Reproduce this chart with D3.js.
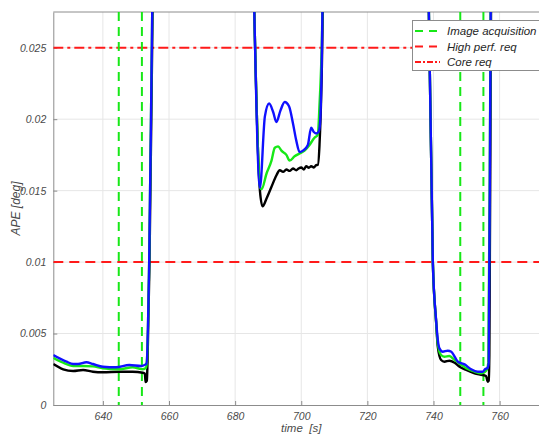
<!DOCTYPE html>
<html>
<head>
<meta charset="utf-8">
<script src="https://cdn.jsdelivr.net/npm/d3@7"></script>
<style>
  html, body { margin: 0; padding: 0; background: #fff; overflow: hidden; }
  svg { display: block; font-family: "Liberation Sans", Arial, sans-serif; }
  text { font-style: italic; }
</style>
</head>
<body>
<svg id="chart" width="539" height="438"></svg>
<script>
// Pointing error traces (time in s, APE in deg). Values above the axis top are clipped.
const blueTime = [625, 629, 631, 632.5, 635, 637, 640, 644, 648, 651.6, 652.6, 653.2, 654.0, 654.8, 655.2, 670,
  685.4, 685.8, 687.5, 689.0, 690.3, 691.5, 692.5, 693.7, 695.0, 696.3, 697.5, 698.5, 699.5, 700.5, 702.0, 703.0, 703.8, 704.5, 705.2, 705.6, 706.4, 706.6, 722,
  738.4, 738.6, 739.8, 740.8, 741.3, 741.8, 742.8, 744.3, 745.4, 746.4, 747.4, 749.4, 751.4, 753.4, 754.9, 755.6, 756.4, 756.7, 757.3, 757.5, 775];
const blueApe = [0.0035, 0.00303, 0.00287, 0.00287, 0.00299, 0.00287, 0.00268, 0.00264, 0.0028, 0.00273, 0.0028, 0.0029, 0.0100, 0.0250, 0.032, 0.06,
  0.032, 0.0275, 0.0152, 0.0202, 0.0211, 0.0205, 0.0198, 0.0206, 0.0212, 0.0209, 0.0197, 0.0185, 0.0177, 0.0178, 0.0182, 0.0194, 0.0191, 0.0190, 0.0191, 0.0195, 0.0275, 0.032, 0.06,
  0.032, 0.0275, 0.0100, 0.0059, 0.00455, 0.00396, 0.00373, 0.0038, 0.00373, 0.00338, 0.00303, 0.00284, 0.0025, 0.00233, 0.00233, 0.0025, 0.0026, 0.0030, 0.0275, 0.032, 0.06];

const greenTime = [625, 628, 631, 634, 637, 640, 645, 649, 652.1, 653.0, 653.3, 654.0, 654.8, 655.2, 670,
  685.4, 685.8, 687.6, 688.0, 689.5, 691.0, 692.0, 693.0, 694.0, 695.5, 696.5, 698.0, 699.5, 701.0, 702.5, 704.0, 705.0, 705.5, 706.4, 706.6, 722,
  738.4, 738.6, 739.8, 740.8, 741.3, 742.3, 743.3, 744.8, 746.4, 747.9, 749.9, 752.4, 754.4, 755.6, 756.2, 756.6, 757.3, 757.5, 775];
const greenApe = [0.00331, 0.00296, 0.00273, 0.00273, 0.0027, 0.00257, 0.0025, 0.00264, 0.0025, 0.0026, 0.0030, 0.0100, 0.0250, 0.032, 0.06,
  0.032, 0.0275, 0.0152, 0.0151, 0.0162, 0.0171, 0.0180, 0.0181, 0.0178, 0.0175, 0.0171, 0.0174, 0.0176, 0.0178, 0.0182, 0.0187, 0.0189, 0.0209, 0.0275, 0.032, 0.06,
  0.032, 0.0275, 0.0100, 0.0058, 0.0043, 0.0035, 0.00338, 0.00343, 0.00315, 0.00291, 0.00257, 0.00233, 0.00222, 0.00233, 0.0025, 0.0030, 0.0275, 0.032, 0.06];

const blackTime = [625, 628, 631, 634, 637, 640, 645, 649, 652.1, 652.7, 652.9, 653.3, 653.5, 654.1, 654.9, 655.3, 670,
  685.4, 685.8, 687.5, 688.3, 689.5, 691.0, 692.5, 693.5, 694.5, 695.5, 696.5, 697.5, 698.5, 699.2, 700.0, 700.8, 701.5, 702.3, 703.0, 703.8, 704.5, 705.0, 705.5, 706.5, 706.7, 722,
  738.4, 738.6, 739.8, 740.8, 741.3, 742.3, 743.3, 744.8, 746.4, 747.9, 749.9, 752.4, 754.9, 755.9, 756.4, 756.7, 756.9, 757.4, 757.6, 775];
const blackApe = [0.00287, 0.0025, 0.00238, 0.00245, 0.00233, 0.00229, 0.00233, 0.00233, 0.00226, 0.0022, 0.0016, 0.0017, 0.0030, 0.0100, 0.0250, 0.032, 0.06,
  0.032, 0.0275, 0.0150, 0.0139, 0.01445, 0.01527, 0.01608, 0.01643, 0.01631, 0.01648, 0.01638, 0.01655, 0.01643, 0.01655, 0.01662, 0.01648, 0.01671, 0.0166, 0.01671, 0.01662, 0.01678, 0.0168, 0.0181, 0.0275, 0.032, 0.06,
  0.032, 0.0275, 0.0100, 0.0058, 0.00408, 0.00315, 0.00303, 0.0031, 0.00296, 0.00268, 0.00245, 0.00222, 0.0021, 0.00203, 0.00163, 0.0017, 0.0035, 0.0275, 0.032, 0.06];

// Image acquisition windows (vertical markers) and requirement levels
const acquisitionTimes = [644.8, 651.8, 748.1, 755.1];
const highPerfReq = 0.01;
const coreReq = 0.025;

// Axis ticks
const xTicks = [640, 660, 680, 700, 720, 740, 760];
const yTicks = [0, 0.005, 0.01, 0.015, 0.02, 0.025];
const yTickLabels = ["0", "0.005", "0.01", "0.015", "0.02", "0.025"];

const legendLabels = ["Image acquisition", "High perf. req", "Core req"];

const svg = d3.select("#chart");
const plotLeft = 53.3, plotRight = 549.2, plotTop = 12, plotBottom = 405;

const x = d3.scaleLinear().domain([625, 775]).range([plotLeft, plotRight]);
const y = d3.scaleLinear().domain([0, 0.0275]).range([plotBottom, plotTop]);

const green = "#17e817", red = "#ff1a1a", blue = "#1010ff";

svg.append("defs").append("clipPath").attr("id", "plotClip")
  .append("rect").attr("x", plotLeft).attr("y", plotTop)
  .attr("width", plotRight - plotLeft).attr("height", plotBottom - plotTop);

// grid
const grid = svg.append("g");
grid.selectAll(".gx").data(xTicks).join("line")
  .attr("x1", d => x(d)).attr("x2", d => x(d)).attr("y1", plotTop).attr("y2", plotBottom)
  .attr("stroke", "#e6e6e6").attr("stroke-width", 1);
grid.selectAll(".gy").data(yTicks.slice(1)).join("line")
  .attr("x1", plotLeft).attr("x2", plotRight).attr("y1", d => y(d)).attr("y2", d => y(d))
  .attr("stroke", "#e6e6e6").attr("stroke-width", 1);

// axes (inward ticks)
const xAxis = svg.append("g").attr("transform", `translate(0,${plotBottom})`)
  .call(d3.axisBottom(x).tickValues(xTicks).tickSizeInner(-4).tickSizeOuter(0).tickPadding(8));
const yAxis = svg.append("g").attr("transform", `translate(${plotLeft},0)`)
  .call(d3.axisLeft(y).tickValues(yTicks).tickFormat((d, i) => yTickLabels[i]).tickSizeInner(-4).tickSizeOuter(0).tickPadding(7));
[xAxis, yAxis].forEach(a => {
  a.select(".domain").attr("stroke", "#8c8c8c");
  a.selectAll(".tick line").attr("stroke", "#8c8c8c");
  a.selectAll(".tick text").attr("fill", "#4a4a4a").attr("font-size", 10.5)
    .attr("font-family", "'Liberation Sans', Arial, sans-serif");
});
svg.append("line").attr("x1", plotLeft).attr("x2", plotRight).attr("y1", plotTop).attr("y2", plotTop)
  .attr("stroke", "#8c8c8c").attr("stroke-width", 1);

const plot = svg.append("g").attr("clip-path", "url(#plotClip)");

// requirement levels
plot.append("line").attr("x1", plotLeft).attr("x2", plotRight).attr("y1", y(highPerfReq)).attr("y2", y(highPerfReq))
  .attr("stroke", red).attr("stroke-width", 2).attr("stroke-dasharray", "10,6");
plot.append("line").attr("x1", plotLeft).attr("x2", plotRight).attr("y1", y(coreReq)).attr("y2", y(coreReq))
  .attr("stroke", red).attr("stroke-width", 2).attr("stroke-dasharray", "10,4,3,4");

// acquisition markers
plot.selectAll(".acq").data(acquisitionTimes).join("line")
  .attr("x1", d => x(d)).attr("x2", d => x(d)).attr("y1", plotTop).attr("y2", plotBottom)
  .attr("stroke", green).attr("stroke-width", 2).attr("stroke-dasharray", "9,6");

// traces
const line = d3.line().x(d => x(d[0])).y(d => y(d[1])).curve(d3.curveMonotoneX);
const traces = [
  { t: blackTime, v: blackApe, c: "#000000" },
  { t: greenTime, v: greenApe, c: green },
  { t: blueTime, v: blueApe, c: blue }
];
traces.forEach(s => {
  plot.append("path").datum(s.t.map((t, i) => [t, s.v[i]]))
    .attr("d", line).attr("fill", "none").attr("stroke", s.c)
    .attr("stroke-width", 2.4).attr("stroke-linejoin", "round");
});

// axis titles
svg.append("text").attr("x", (plotLeft + plotRight) / 2).attr("y", 432).attr("text-anchor", "middle")
  .attr("font-size", 11.5).attr("fill", "#4a4a4a").style("white-space", "pre").text("time  [s]");
svg.append("text").attr("transform", `translate(20,${(plotTop + plotBottom) / 2}) rotate(-90)`)
  .attr("text-anchor", "middle").attr("font-size", 12).attr("fill", "#4a4a4a").text("APE [deg]");

// legend
const lg = svg.append("g");
lg.append("rect").attr("x", 412.5).attr("y", 20.5).attr("width", 140).attr("height", 50)
  .attr("fill", "#fff").attr("stroke", "#8c8c8c").attr("stroke-width", 1);
const legendStyles = [
  { c: green, dash: "8,6" },
  { c: red, dash: "8,6" },
  { c: red, dash: "6,2,2,2" }
];
legendLabels.forEach((lab, i) => {
  const yy = 31 + i * 15.5;
  lg.append("line").attr("x1", 415).attr("x2", 440).attr("y1", yy).attr("y2", yy)
    .attr("stroke", legendStyles[i].c).attr("stroke-width", 2).attr("stroke-dasharray", legendStyles[i].dash);
  lg.append("text").attr("x", 447).attr("y", yy + 4).attr("font-size", 11.5).attr("fill", "#262626").text(lab);
});
</script>
</body>
</html>
